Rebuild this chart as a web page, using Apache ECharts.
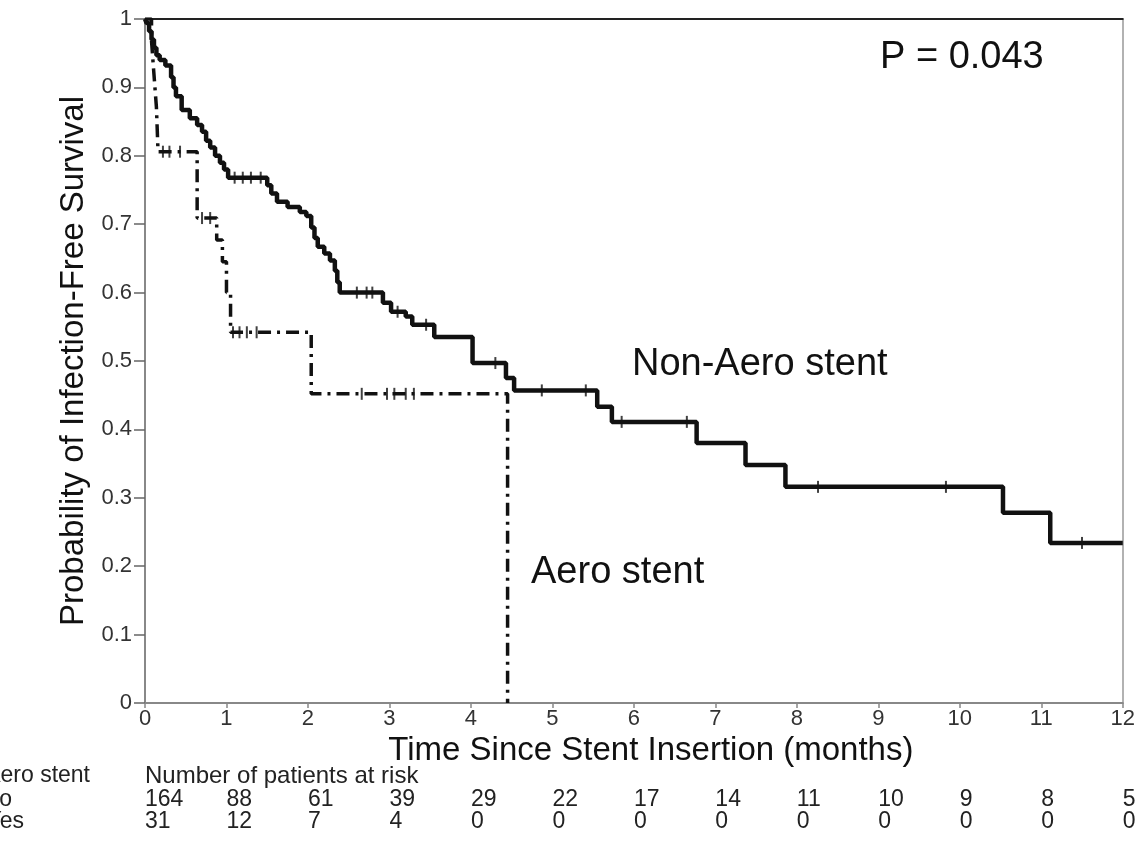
<!DOCTYPE html>
<html>
<head>
<meta charset="utf-8">
<script src="https://cdn.jsdelivr.net/npm/echarts@6/dist/echarts.min.js"></script>
<style>
html,body{margin:0;padding:0;background:#fff;}
#c{width:1138px;height:865px;}
</style>
</head>
<body>
<div id="c"></div>
<script>
// ---- data ----
const nonAeroT = [0, 0.02, 0.05, 0.08, 0.11, 0.14, 0.18, 0.25, 0.32, 0.35, 0.38, 0.45, 0.55, 0.64, 0.7, 0.75, 0.8, 0.86, 0.92, 0.97, 1.02, 1.5, 1.55, 1.62, 1.75, 1.9, 1.98, 2.04, 2.08, 2.12, 2.2, 2.27, 2.33, 2.36, 2.39, 2.92, 3.02, 3.2, 3.28, 3.55, 4.02, 4.43, 4.53, 5.55, 5.73, 6.77, 7.37, 7.86, 10.53, 11.11, 12];
const nonAeroS = [1, 0.994, 0.982, 0.97, 0.958, 0.947, 0.94, 0.932, 0.915, 0.9, 0.887, 0.867, 0.855, 0.845, 0.835, 0.822, 0.812, 0.8, 0.79, 0.78, 0.768, 0.757, 0.745, 0.733, 0.725, 0.718, 0.712, 0.695, 0.68, 0.667, 0.657, 0.647, 0.632, 0.615, 0.6, 0.585, 0.572, 0.565, 0.553, 0.535, 0.497, 0.475, 0.457, 0.433, 0.411, 0.38, 0.348, 0.316, 0.278, 0.234, 0.234];
const aeroT = [0, 0.08, 0.1, 0.12, 0.14, 0.15, 0.16, 0.64, 0.88, 0.95, 1.0, 1.05, 2.04, 4.45];
const aeroS = [1, 0.968, 0.935, 0.903, 0.871, 0.839, 0.806, 0.709, 0.677, 0.645, 0.6, 0.542, 0.452, 0];
const nonAeroCensorT = [1.1, 1.2, 1.3, 1.42, 2.6, 2.72, 2.79, 3.1, 3.45, 4.3, 4.87, 5.41, 5.85, 6.65, 8.26, 9.83, 11.5];
const aeroCensorT = [0.22, 0.3, 0.43, 0.7, 0.8, 1.08, 1.16, 1.25, 1.37, 2.66, 2.97, 3.06, 3.2, 3.3];
const riskTimes = [0,1,2,3,4,5,6,7,8,9,10,11,12];
const riskNo  = [164, 88, 61, 39, 29, 22, 17, 14, 11, 10, 9, 8, 5];
const riskYes = [31, 12, 7, 4, 0, 0, 0, 0, 0, 0, 0, 0, 0];
const yTicks = [0, 0.1, 0.2, 0.3, 0.4, 0.5, 0.6, 0.7, 0.8, 0.9, 1];

// step-function lookup for censor marks
function survAt(T, S, t) {
  let v = S[0];
  for (let i = 0; i < T.length; i++) { if (T[i] <= t) v = S[i]; else break; }
  return v;
}
const FONT = 'Liberation Sans, Arial, sans-serif';
const chart = echarts.init(document.getElementById('c'), null, {renderer: 'canvas'});

const option = {
  animation: false,
  backgroundColor: '#fff',
  grid: {left: 145, right: 13, top: 19, bottom: 162, containLabel: false},
  xAxis: [{
    type: 'value', min: 0, max: 12, interval: 1,
    name: 'Time Since Stent Insertion (months)', nameLocation: 'middle', nameGap: 28,
    nameTextStyle: {fontFamily: FONT, fontSize: 33, color: '#111', padding: [0, 0, 0, 34], verticalAlign: 'top'},
    axisLine: {show: true, onZero: false, lineStyle: {color: '#888', width: 2}},
    axisTick: {show: true, length: 5, lineStyle: {color: '#888', width: 1.5}},
    axisLabel: {fontFamily: FONT, fontSize: 22, color: '#333', margin: 5},
    splitLine: {show: false}
  }, {
    type: 'value', min: 0, max: 12, position: 'top',
    axisLine: {show: true, onZero: false, lineStyle: {color: '#222', width: 2}},
    axisTick: {show: false}, axisLabel: {show: false}, splitLine: {show: false}
  }],
  yAxis: [{
    type: 'value', min: 0, max: 1, interval: 0.1,
    name: 'Probability of Infection-Free Survival', nameLocation: 'middle', nameGap: 54,
    nameTextStyle: {fontFamily: FONT, fontSize: 33, color: '#111'},
    axisLine: {show: true, onZero: false, lineStyle: {color: '#888', width: 2}},
    axisTick: {show: true, length: 11, lineStyle: {color: '#666', width: 1.5}},
    axisLabel: {fontFamily: FONT, fontSize: 22, color: '#333', margin: 13,
      formatter: v => { const r = Math.round(v * 10) / 10; return yTicks.indexOf(r) >= 0 ? String(r) : ''; }},
    splitLine: {show: false}
  }, {
    type: 'value', min: 0, max: 1, position: 'right',
    axisLine: {show: true, onZero: false, lineStyle: {color: '#999', width: 1.5}},
    axisTick: {show: false}, axisLabel: {show: false}, splitLine: {show: false}
  }],
  series: [
    {
      name: 'Aero stent', type: 'line', step: 'end', showSymbol: false, symbol: 'none',
      data: aeroT.map((t, i) => [t, aeroS[i]]),
      lineStyle: {color: '#111', width: 3.5, type: [13, 6, 3, 6]}, z: 3
    },
    {
      name: 'Non-Aero stent', type: 'line', step: 'end', showSymbol: false, symbol: 'none',
      data: nonAeroT.map((t, i) => [t, nonAeroS[i]]),
      lineStyle: {color: '#111', width: 4.5}, z: 4
    },
    {
      type: 'scatter', symbol: 'rect', symbolSize: [2, 12],
      data: nonAeroCensorT.map(t => [t, survAt(nonAeroT, nonAeroS, t)]),
      itemStyle: {color: '#111'}, z: 5
    },
    {
      type: 'scatter', symbol: 'rect', symbolSize: [2, 12],
      data: aeroCensorT.map(t => [t, survAt(aeroT, aeroS, t)]),
      itemStyle: {color: '#111'}, z: 5
    }
  ]
};
chart.setOption(option);

const graphics = [
  {type: 'text', left: 880, top: 39, style: {text: 'P = 0.043', font: '38px ' + FONT, fill: '#111'}},
  {type: 'text', left: 632, top: 346, style: {text: 'Non-Aero stent', font: '38px ' + FONT, fill: '#111'}},
  {type: 'text', left: 531, top: 554, style: {text: 'Aero stent', font: '38px ' + FONT, fill: '#111'}},
  {type: 'text', x: 90, y: 776, style: {text: 'Aero stent', font: '23px ' + FONT, fill: '#222', align: 'right', verticalAlign: 'middle'}},
  {type: 'text', x: 12, y: 800, style: {text: 'No', font: '23px ' + FONT, fill: '#222', align: 'right', verticalAlign: 'middle'}},
  {type: 'text', x: 24, y: 822, style: {text: 'Yes', font: '23px ' + FONT, fill: '#222', align: 'right', verticalAlign: 'middle'}},
  {type: 'text', x: 145, y: 776, style: {text: 'Number of patients at risk', font: '24px ' + FONT, fill: '#222', align: 'left', verticalAlign: 'middle'}}
];
riskTimes.forEach((t, i) => {
  const px = chart.convertToPixel({xAxisIndex: 0}, t);
  graphics.push({type: 'text', x: px, y: 800, style: {text: String(riskNo[i]), font: '23px ' + FONT, fill: '#222', align: 'left', verticalAlign: 'middle'}});
  graphics.push({type: 'text', x: px, y: 822, style: {text: String(riskYes[i]), font: '23px ' + FONT, fill: '#222', align: 'left', verticalAlign: 'middle'}});
});
chart.setOption({graphic: graphics});
</script>
</body>
</html>
